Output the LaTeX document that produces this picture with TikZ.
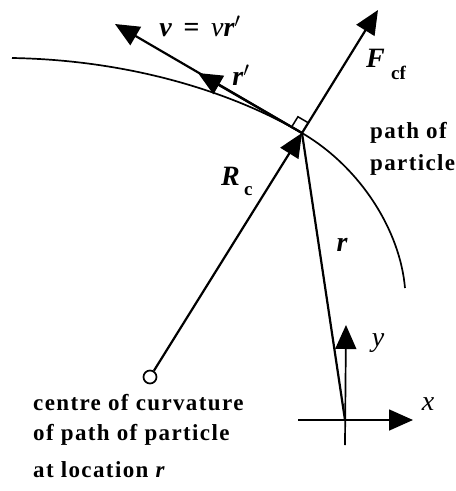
\documentclass[tikz,border=0pt]{standalone}
\usepackage{fontspec}
\setmainfont{Liberation Serif}
\newfontfamily\spaced[LetterSpace=6]{Liberation Serif}
\usetikzlibrary{arrows.meta,calc}
\tikzset{
  vec/.style={-{Triangle[length=24pt,width=21pt]}, line width=2.2pt},
  axis/.style={vec, line width=1.7pt},
  stem/.style={line width=2.2pt},
  pathline/.style={line width=1.7pt},
  caption/.style={font=\spaced\fontsize{23}{30}\selectfont\bfseries,
    inner sep=0pt, align=left, anchor=base west},
  sym/.style={font=\fontsize{28}{28}\selectfont\bfseries\itshape, inner sep=0pt},
  idx/.style={font=\fontsize{19}{19}\selectfont\bfseries, inner sep=0pt,
    anchor=base west},
  hole/.style={circle, draw, line width=1.7pt, fill=white,
    minimum size=13pt, inner sep=0pt}
}
\begin{document}
\begin{tikzpicture}[x=1pt,y=-1pt]
  \useasboundingbox (0,0) rectangle (456,491);

  % particle, centre of curvature and vector ends
  \coordinate (part) at (302,133);
  \node[hole] (ctr) at (150,377) {};
  \coordinate (vtip) at (115,24);
  \coordinate (rptip) at (198,73);
  \coordinate (ftip) at (378,10);
  \coordinate (orig) at (345,420);
  \coordinate (xstart) at (298,420);
  \coordinate (xtip) at (413,420);
  \coordinate (ybot) at (345,445);
  \coordinate (ytip) at (346,325);
  \coordinate (pstart) at (12,58);
  \coordinate (pend) at (405,288);

  % path of particle
  \draw[pathline] (pstart) .. controls (130,60) and (232,92) .. (part)
    .. controls (360,167) and (400,230) .. (pend);

  % vectors at the particle
  \draw[vec] (part) -- (vtip);
  \draw[vec] (part) -- (rptip);
  \draw[vec] (part) -- (ftip);
  \draw[vec] (ctr) -- (part);
  \draw[stem] (orig) -- (part);

  % right angle mark
  \coordinate (sqa) at ($(part)!12pt!(vtip)$);
  \coordinate (sqc) at ($(part)!12pt!(ftip)$);
  \draw[line width=1.5pt] (sqa) -- ($(sqa)+(sqc)-(part)$) -- (sqc);

  % axes
  \draw[axis] (ybot) -- (ytip);
  \draw[axis] (xstart) -- (xtip);

  % labels
  \node[sym] (vlbl) at (200,26) {v\, =\, {\mdseries v}r$'$};
  \node[sym] (rplbl) at (241,75) {r$'$};
  \node[sym, anchor=base west] (flbl) at (366,67) {F};
  \node[idx] (fsub) at (391,79) {cf};
  \node[sym, anchor=base west] (rclbl) at (221,185) {R};
  \node[idx] (rcsub) at (244,195) {c};
  \node[sym] (rlbl) at (342,245) {r};
  \node[sym, font=\fontsize{28}{28}\selectfont\itshape] (ylbl) at (378,343) {y};
  \node[sym, font=\fontsize{28}{28}\selectfont\itshape] (xlbl) at (428,404) {x};
  \node[caption] (pathtxt) at (370,170) {path of\\[2pt]particle};
  \node[caption] (ctrtxt) at (33,477)
    {centre of curvature\\of path of particle\\[7pt]at location {\itshape r}};
\end{tikzpicture}
\end{document}
